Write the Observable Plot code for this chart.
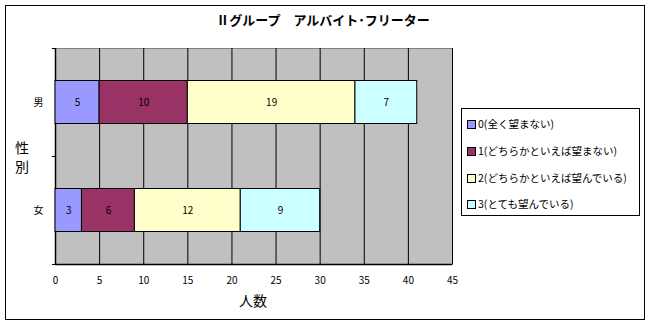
<!DOCTYPE html>
<html>
<head>
<meta charset="utf-8">
<script src="https://cdn.jsdelivr.net/npm/d3@7"></script>
<script src="https://cdn.jsdelivr.net/npm/@observablehq/plot@0.6"></script>
<style>
  html, body { margin: 0; padding: 0; background: #fff; }
  body { font-family: "Noto Sans CJK JP", "Noto Sans", sans-serif; }
  #wrap { position: relative; width: 650px; height: 324px; overflow: hidden; }
  #outer { position: absolute; left: 5px; top: 5px; border: 1px solid #000; box-sizing: border-box; width: 640px; height: 315px; }
  #title { position: absolute; left: 0; width: 646px; top: 11px; text-align: center; font-size: 13px; font-weight: bold; line-height: 18px; }
  #ytitle { position: absolute; left: 14px; top: 138px; width: 16px; font-size: 14px; line-height: 19px; text-align: center; }
  #xtitle { position: absolute; left: 203px; width: 100px; top: 291px; font-size: 14px; text-align: center; line-height: 18px; }
  #legend { position: absolute; left: 461px; top: 108px; width: 179px; height: 108px; border: 1px solid #000; box-sizing: border-box; background: #fff; }
  .li { position: absolute; left: 5px; font-size: 10.5px; line-height: 14px; white-space: nowrap; }
  .sw { display: inline-block; width: 7px; height: 7px; border: 1px solid #000; margin-right: 2px; vertical-align: -1px; }
  #chart { position: absolute; left: 0; top: 0; }
</style>
</head>
<body>
<div id="wrap">
  <div id="outer"></div>
  <div id="chart"></div>
  <div id="title"></div>
  <div id="ytitle"></div>
  <div id="xtitle"></div>
  <div id="legend"></div>
</div>
<script>
const titleText = "Ⅱグループ　アルバイト･フリーター";
const yTitle = ["性", "別"];
const xTitle = "人数";
const categories = ["男", "女"];
const seriesNames = ["0(全く望まない)", "1(どちらかといえば望まない)", "2(どちらかといえば望んでいる)", "3(とても望んでいる)"];
const maleValues = [5, 10, 19, 7];
const femaleValues = [3, 6, 12, 9];
const colors = ["#9999ff", "#993366", "#ffffcc", "#ccffff"];
const xTicks = [0, 5, 10, 15, 20, 25, 30, 35, 40, 45];

const data = [];
[maleValues, femaleValues].forEach((vals, ci) => {
  vals.forEach((v, si) => data.push({cat: categories[ci], series: seriesNames[si], value: v}));
});

const font = '"Noto Sans CJK JP", "Noto Sans", sans-serif';
const half = 108 / 2;
const inset = 32.5;

const chart = Plot.plot({
  width: 650,
  height: 324,
  marginLeft: 55,
  marginRight: 198,
  marginTop: 48,
  marginBottom: 60,
  style: {fontFamily: font, fontSize: "10px", background: "transparent", overflow: "visible"},
  x: {domain: [0, 45], ticks: xTicks, tickSize: 0, tickPadding: 12, label: null, tickFormat: d => String(d)},
  y: {domain: categories, padding: 0, tickSize: 0, tickPadding: 12, label: null},
  color: {domain: seriesNames, range: colors},
  marks: [
    Plot.frame({fill: "#c0c0c0", stroke: "#808080"}),
    Plot.ruleX(xTicks.slice(1), {stroke: "#000", strokeWidth: 1}),
    Plot.ruleX([0], {stroke: "#000", strokeWidth: 1.5}),
    Plot.ruleY(["女"], {dy: half, stroke: "#000", strokeWidth: 1.5}),
    Plot.ruleY(["男", "女"], {dy: -half, x1: -0.35, x2: 0, stroke: "#000"}),
    Plot.ruleY(["女"], {dy: half, x1: -0.35, x2: 0, stroke: "#000"}),
    Plot.barX(data, Plot.stackX({y: "cat", x: "value", fill: "series", stroke: "#000", strokeWidth: 1, insetTop: inset, insetBottom: inset})),
    Plot.text(data, Plot.stackX({y: "cat", x: "value", z: "series", text: d => String(d.value), fill: "#000", fontSize: 10}))
  ]
});
document.getElementById("chart").appendChild(chart);

document.getElementById("title").textContent = titleText;
document.getElementById("ytitle").innerHTML = yTitle.map(c => `<div>${c}</div>`).join("");
document.getElementById("xtitle").textContent = xTitle;
const legend = document.getElementById("legend");
const legendTops = [8, 35, 62, 88];
seriesNames.forEach((name, i) => {
  const item = document.createElement("div");
  item.className = "li";
  item.style.top = legendTops[i] + "px";
  item.innerHTML = `<span class="sw" style="background:${colors[i]}"></span>${name}`;
  legend.appendChild(item);
});
</script>
</body>
</html>
